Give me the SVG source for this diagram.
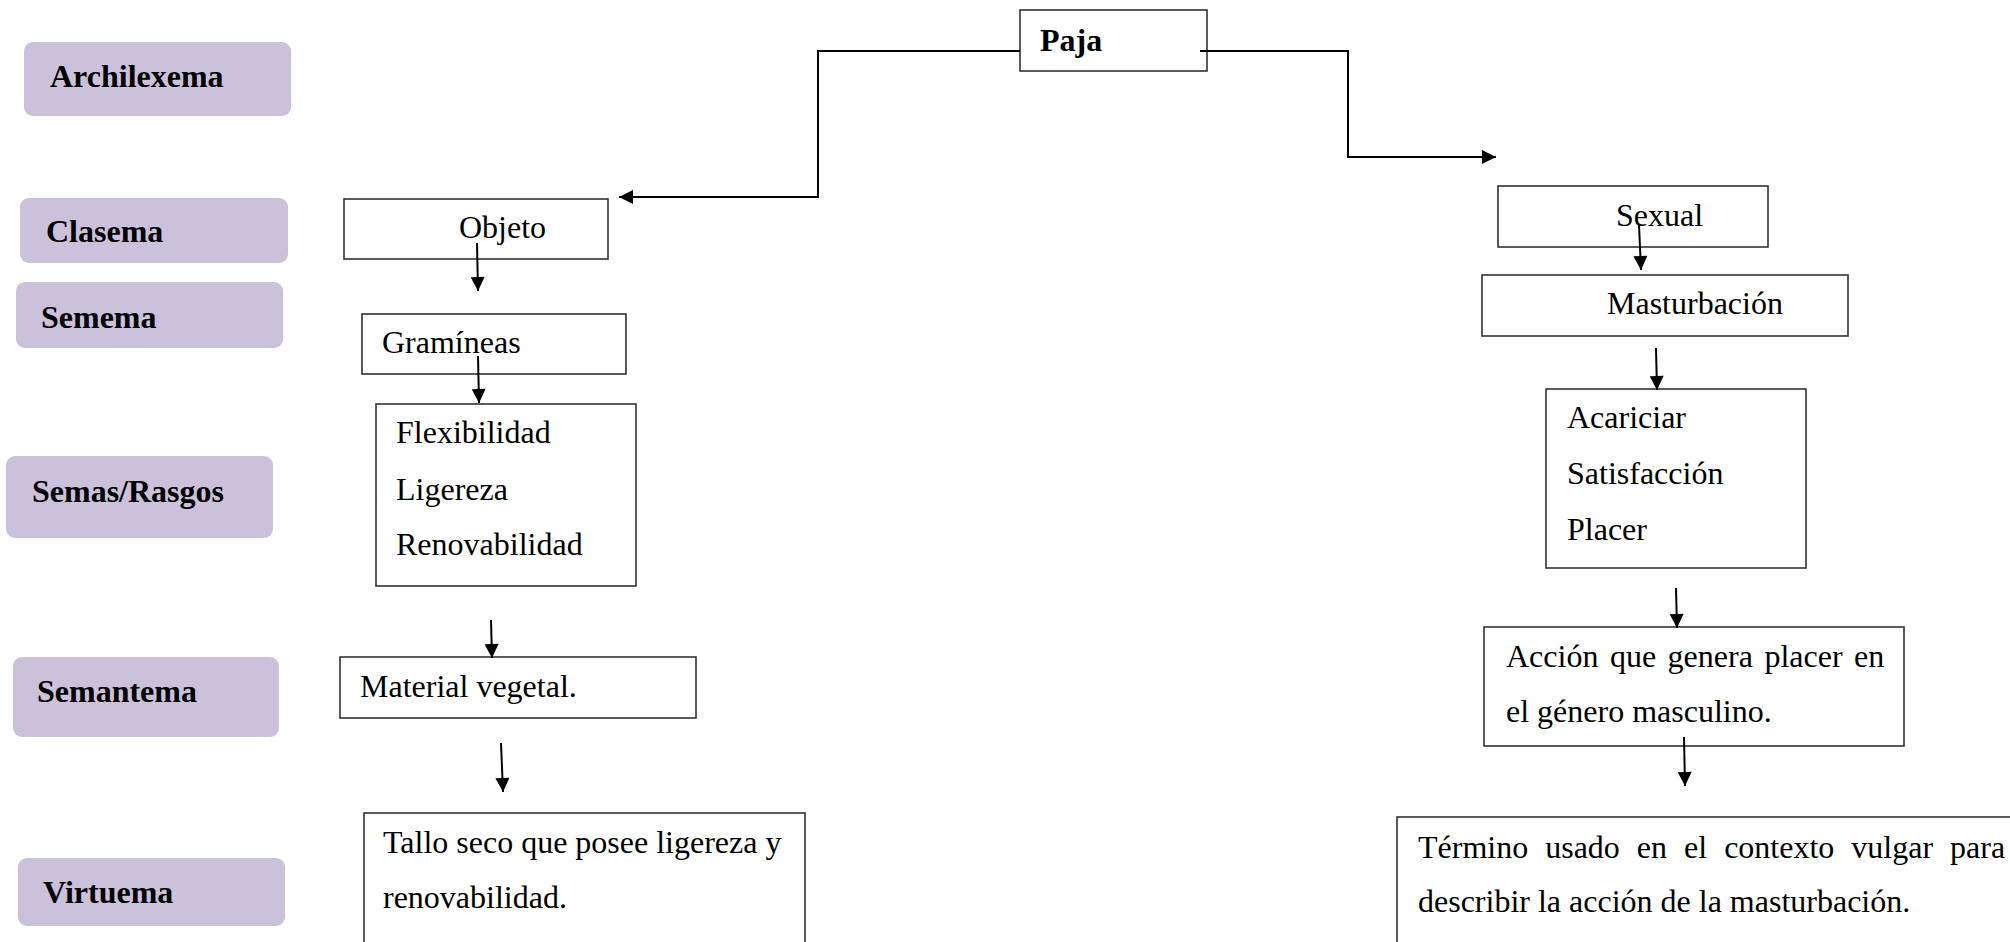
<svg xmlns="http://www.w3.org/2000/svg" width="2010" height="942" viewBox="0 0 2010 942">
  <style>
    .lbl rect { fill: #CCC1DA; }
    .lbl text { font-family: "Liberation Serif", "Times New Roman", serif; font-weight: bold; font-size: 32px; fill: #000; }
    .box rect { fill: #fff; stroke: #333; stroke-width: 1.6; }
    .box text { font-family: "Liberation Serif", "Times New Roman", serif; font-size: 32px; fill: #000; }
    .box text.b { font-weight: bold; }
    .conn path, .conn line { fill: none; stroke: #000; stroke-width: 2; }
  </style>
  <defs>
    <marker id="arrow" viewBox="0 0 10 10" refX="10" refY="5" markerUnits="userSpaceOnUse" markerWidth="15" markerHeight="14" orient="auto">
      <path d="M0,0 L10,5 L0,10 z" fill="#000"/>
    </marker>
  </defs>

  <rect width="2010" height="942" fill="#fff"/>

  <!-- level labels -->
  <g id="lbl-archilexema" class="lbl"><rect x="24" y="42" width="267" height="74" rx="9"/><text x="50" y="87">Archilexema</text></g>
  <g id="lbl-clasema" class="lbl"><rect x="20" y="198" width="268" height="65" rx="9"/><text x="46" y="242">Clasema</text></g>
  <g id="lbl-semema" class="lbl"><rect x="16" y="282" width="267" height="66" rx="9"/><text x="41" y="328">Semema</text></g>
  <g id="lbl-semas" class="lbl"><rect x="6" y="456" width="267" height="82" rx="9"/><text x="32" y="502">Semas/Rasgos</text></g>
  <g id="lbl-semantema" class="lbl"><rect x="13" y="657" width="266" height="80" rx="9"/><text x="37" y="702">Semantema</text></g>
  <g id="lbl-virtuema" class="lbl"><rect x="18" y="858" width="267" height="68" rx="9"/><text x="43" y="903">Virtuema</text></g>

  <!-- root -->
  <g id="paja" class="box"><rect x="1020" y="10" width="187" height="61"/><text class="b" x="1040" y="51">Paja</text></g>

  <!-- left branch -->
  <g id="objeto" class="box"><rect x="344" y="199" width="264" height="60"/><text x="459" y="238">Objeto</text></g>
  <g id="gramineas" class="box"><rect x="362" y="314" width="264" height="60"/><text x="382" y="353">Gramíneas</text></g>
  <g id="semas-izq" class="box"><rect x="376" y="404" width="260" height="182"/>
    <text x="396" y="443">Flexibilidad</text>
    <text x="396" y="500">Ligereza</text>
    <text x="396" y="555">Renovabilidad</text>
  </g>
  <g id="material" class="box"><rect x="340" y="657" width="356" height="61"/><text x="360" y="697">Material vegetal.</text></g>
  <g id="tallo" class="box"><rect x="364" y="813" width="441" height="160"/>
    <text x="383" y="853">Tallo seco que posee ligereza y</text>
    <text x="383" y="908">renovabilidad.</text>
  </g>

  <!-- right branch -->
  <g id="sexual" class="box"><rect x="1498" y="186" width="270" height="61"/><text x="1616" y="226">Sexual</text></g>
  <g id="masturbacion" class="box"><rect x="1482" y="275" width="366" height="61"/><text x="1607" y="314">Masturbación</text></g>
  <g id="semas-der" class="box"><rect x="1546" y="389" width="260" height="179"/>
    <text x="1567" y="428">Acariciar</text>
    <text x="1567" y="484">Satisfacción</text>
    <text x="1567" y="540">Placer</text>
  </g>
  <g id="accion" class="box"><rect x="1484" y="627" width="420" height="119"/>
    <text x="1506" y="667" word-spacing="3.5">Acción que genera placer en</text>
    <text x="1506" y="722">el género masculino.</text>
  </g>
  <g id="termino" class="box"><rect x="1397" y="817" width="640" height="160"/>
    <text x="1418" y="858" word-spacing="9">Término usado en el contexto vulgar para</text>
    <text x="1418" y="912">describir la acción de la masturbación.</text>
  </g>

  <!-- connectors -->
  <g id="connectors" class="conn">
    <path d="M1020,51 H818 V197 H619" marker-end="url(#arrow)"/>
    <path d="M1200,51 H1348 V157 H1496" marker-end="url(#arrow)"/>
    <line x1="477" y1="243" x2="478" y2="291" marker-end="url(#arrow)"/>
    <line x1="478" y1="356" x2="479" y2="403" marker-end="url(#arrow)"/>
    <line x1="491" y1="620" x2="492" y2="658" marker-end="url(#arrow)"/>
    <line x1="501" y1="743" x2="503" y2="792" marker-end="url(#arrow)"/>
    <line x1="1639" y1="225" x2="1641" y2="270" marker-end="url(#arrow)"/>
    <line x1="1656" y1="348" x2="1657" y2="390" marker-end="url(#arrow)"/>
    <line x1="1676" y1="588" x2="1677" y2="628" marker-end="url(#arrow)"/>
    <line x1="1684" y1="737" x2="1685" y2="786" marker-end="url(#arrow)"/>
  </g>
</svg>
